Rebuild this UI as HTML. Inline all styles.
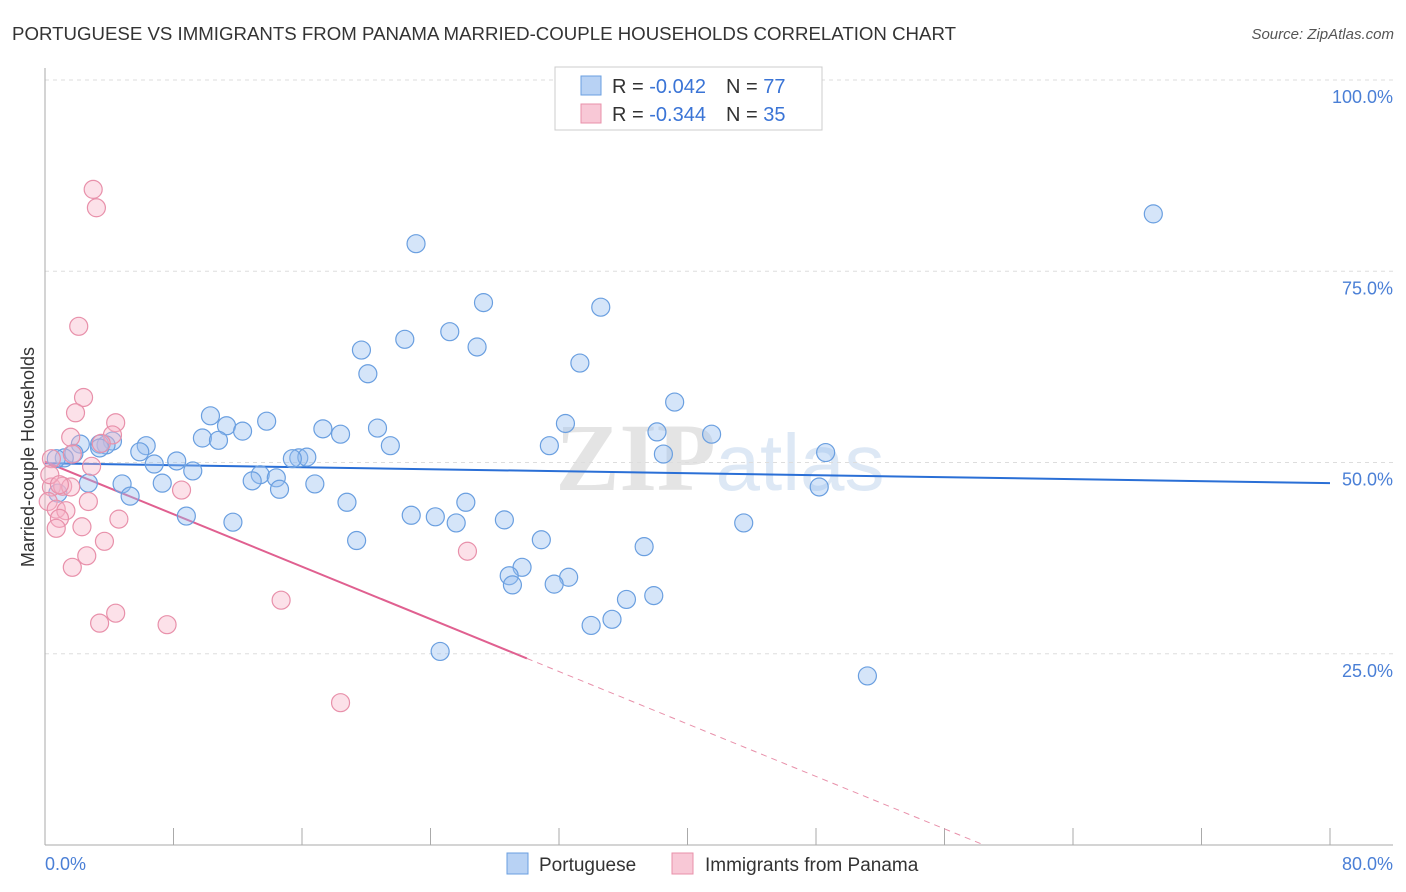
<!DOCTYPE html>
<html><head><meta charset="utf-8"><style>
body{margin:0;background:#fff;font-family:"Liberation Sans",sans-serif;}
#wrap{position:relative;width:1406px;height:892px;overflow:hidden;}
</style></head><body>
<div id="wrap">
<svg id="svg" width="1406" height="892" xmlns="http://www.w3.org/2000/svg">
<text x="12" y="40" font-size="18" fill="#333" textLength="944" lengthAdjust="spacingAndGlyphs">PORTUGUESE VS IMMIGRANTS FROM PANAMA MARRIED-COUPLE HOUSEHOLDS CORRELATION CHART</text>
<text x="1394" y="39" font-size="15" fill="#555" text-anchor="end" font-style="italic">Source: ZipAtlas.com</text>
<text x="720" y="490" font-size="96" fill="#e4e4e4" text-anchor="middle" font-family="Liberation Serif,serif" font-weight="bold">ZIP<tspan fill="#dde8f5" font-family="Liberation Sans,sans-serif" font-weight="normal" font-size="80">atlas</tspan></text>
<g id="grid"></g><g id="axes"></g><g id="lines"></g><g id="pts"></g>
<text transform="translate(34,457) rotate(-90)" font-size="18" fill="#333" text-anchor="middle">Married-couple Households</text>
<g>
<rect x="555" y="67" width="267" height="63" fill="#fff" stroke="#ccc"/>
<rect x="581" y="76" width="20" height="19" fill="#b8d2f4" stroke="#6a9fe0"/>
<rect x="581" y="104" width="20" height="19" fill="#f8c8d6" stroke="#e890aa"/>
<text x="612" y="93" font-size="20" fill="#333">R = <tspan fill="#3a74d6">-0.042</tspan><tspan dx="20">N = </tspan><tspan fill="#3a74d6">77</tspan></text>
<text x="612" y="121" font-size="20" fill="#333">R = <tspan fill="#3a74d6">-0.344</tspan><tspan dx="20">N = </tspan><tspan fill="#3a74d6">35</tspan></text>
</g>
<g>
<rect x="507" y="853" width="21" height="21" fill="#b8d2f4" stroke="#6a9fe0"/>
<text x="539" y="871" font-size="19" fill="#333">Portuguese</text>
<rect x="672" y="853" width="21" height="21" fill="#f8c8d6" stroke="#e890aa"/>
<text x="705" y="871" font-size="19" fill="#333">Immigrants from Panama</text>
</g>
</svg>
<script>
const yTicks=[25,50,75,100];
const yTickLabels=["25.0%","50.0%","75.0%","100.0%"];
const blueX=[69.0,23.1,27.3,34.6,22.4,25.2,26.9,19.7,20.1,33.3,39.2,10.3,13.8,32.4,11.3,12.3,17.3,20.7,18.4,38.1,41.5,9.8,10.8,6.3,4.2,3.8,3.4,2.2,21.5,31.4,48.6,38.5,5.9,1.8,1.2,0.7,8.2,6.8,15.8,16.3,15.4,9.2,13.4,14.4,12.9,7.3,4.8,2.7,14.6,16.8,48.2,5.3,0.8,18.8,26.2,8.8,11.7,22.8,24.3,25.6,28.6,43.5,19.4,30.9,37.3,29.7,28.9,29.1,32.6,31.7,37.9,36.2,35.3,34.0,24.6,51.2,3.4];
const blueY=[82.5,78.6,70.9,70.3,66.1,67.1,65.1,64.7,61.6,63.0,57.9,56.1,55.4,55.1,54.8,54.1,54.4,54.5,53.7,54.0,53.7,53.2,52.9,52.2,52.8,52.3,52.4,52.4,52.2,52.2,51.3,51.1,51.4,51.2,50.6,50.5,50.2,49.8,50.6,50.7,50.5,48.9,48.4,48.0,47.6,47.3,47.2,47.3,46.5,47.2,46.8,45.6,46.0,44.8,44.8,43.0,42.2,43.1,42.9,42.1,42.5,42.1,39.8,39.9,39.0,36.3,35.2,34.0,35.0,34.1,32.6,32.1,29.5,28.7,25.3,22.1,51.9];
const pinkX=[3.0,3.2,2.1,2.4,1.9,4.4,1.6,4.2,3.5,1.7,2.9,0.4,0.4,1.1,1.6,8.5,0.2,2.7,0.7,1.3,0.9,4.6,2.3,0.7,3.7,2.6,26.3,1.7,14.7,4.4,3.4,7.6,18.4,0.3,0.9];
const pinkY=[85.7,83.3,67.8,58.5,56.5,55.2,53.3,53.6,52.5,51.1,49.5,50.5,46.8,46.9,46.8,46.4,44.9,44.9,43.9,43.7,42.7,42.6,41.6,41.4,39.7,37.8,38.4,36.3,32.0,30.3,29.0,28.8,18.6,48.4,47.1];
const blueTrend=[49.9,47.3];
const pinkTrend=[50.1,-0.857];
const NS="http://www.w3.org/2000/svg";
const X0=45,X1=1330,Y0=845,PX=(X1-X0)/80,PY=7.65;
const sx=v=>X0+v*PX, sy=v=>Y0-v*PY;
function mk(tag,attrs,parent){const e=document.createElementNS(NS,tag);for(const k in attrs)e.setAttribute(k,attrs[k]);document.getElementById(parent).appendChild(e);return e;}
yTicks.forEach((t,i)=>{
 const g=mk('line',{x1:X0,x2:1393,y1:sy(t),y2:sy(t),stroke:'#ddd','stroke-dasharray':'4,4'},'grid');
 
 
 const l=mk('text',{x:1393,y:sy(t)+23,'font-size':18,fill:'#4a7fd6','text-anchor':'end'},'grid');
 l.textContent=yTickLabels[i];
 
 
});
mk('line',{x1:X0,x2:X0,y1:68,y2:Y0,stroke:'#aaa'},'axes');
mk('line',{x1:X0,x2:1393,y1:Y0,y2:Y0,stroke:'#aaa'},'axes');
for(let i=1;i<=10;i++){mk('line',{x1:sx(i*8),x2:sx(i*8),y1:828,y2:Y0,stroke:'#aaa'},'axes');}
let t=mk('text',{x:45,y:870,'font-size':18,fill:'#4a7fd6'},'axes');t.textContent='0.0%';


t=mk('text',{x:1393,y:870,'font-size':18,fill:'#4a7fd6','text-anchor':'end'},'axes');t.textContent='80.0%';


blueX.forEach((x,i)=>{const c=mk('circle',{cx:sx(x),cy:sy(blueY[i]),r:9,fill:'rgba(150,190,240,0.4)',stroke:'#6a9fe0','stroke-width':1.2},'pts');
 
 });
pinkX.forEach((x,i)=>{const c=mk('circle',{cx:sx(x),cy:sy(pinkY[i]),r:9,fill:'rgba(248,180,200,0.4)',stroke:'#e890aa','stroke-width':1.2},'pts');
 
 });
let bl=mk('line',{x1:sx(0),y1:sy(blueTrend[0]),x2:sx(80),y2:sy(blueTrend[1]),stroke:'#2a6fd6','stroke-width':2},'lines');


const pe=30, pz=-pinkTrend[0]/pinkTrend[1];
let pl=mk('line',{x1:sx(0),y1:sy(pinkTrend[0]),x2:sx(pe),y2:sy(pinkTrend[0]+pinkTrend[1]*pe),stroke:'#e06090','stroke-width':2},'lines');


let pd=mk('line',{x1:sx(pe),y1:sy(pinkTrend[0]+pinkTrend[1]*pe),x2:sx(pz),y2:sy(0),stroke:'#e890aa','stroke-width':1,'stroke-dasharray':'6,5'},'lines');


</script>
</div></body></html>
